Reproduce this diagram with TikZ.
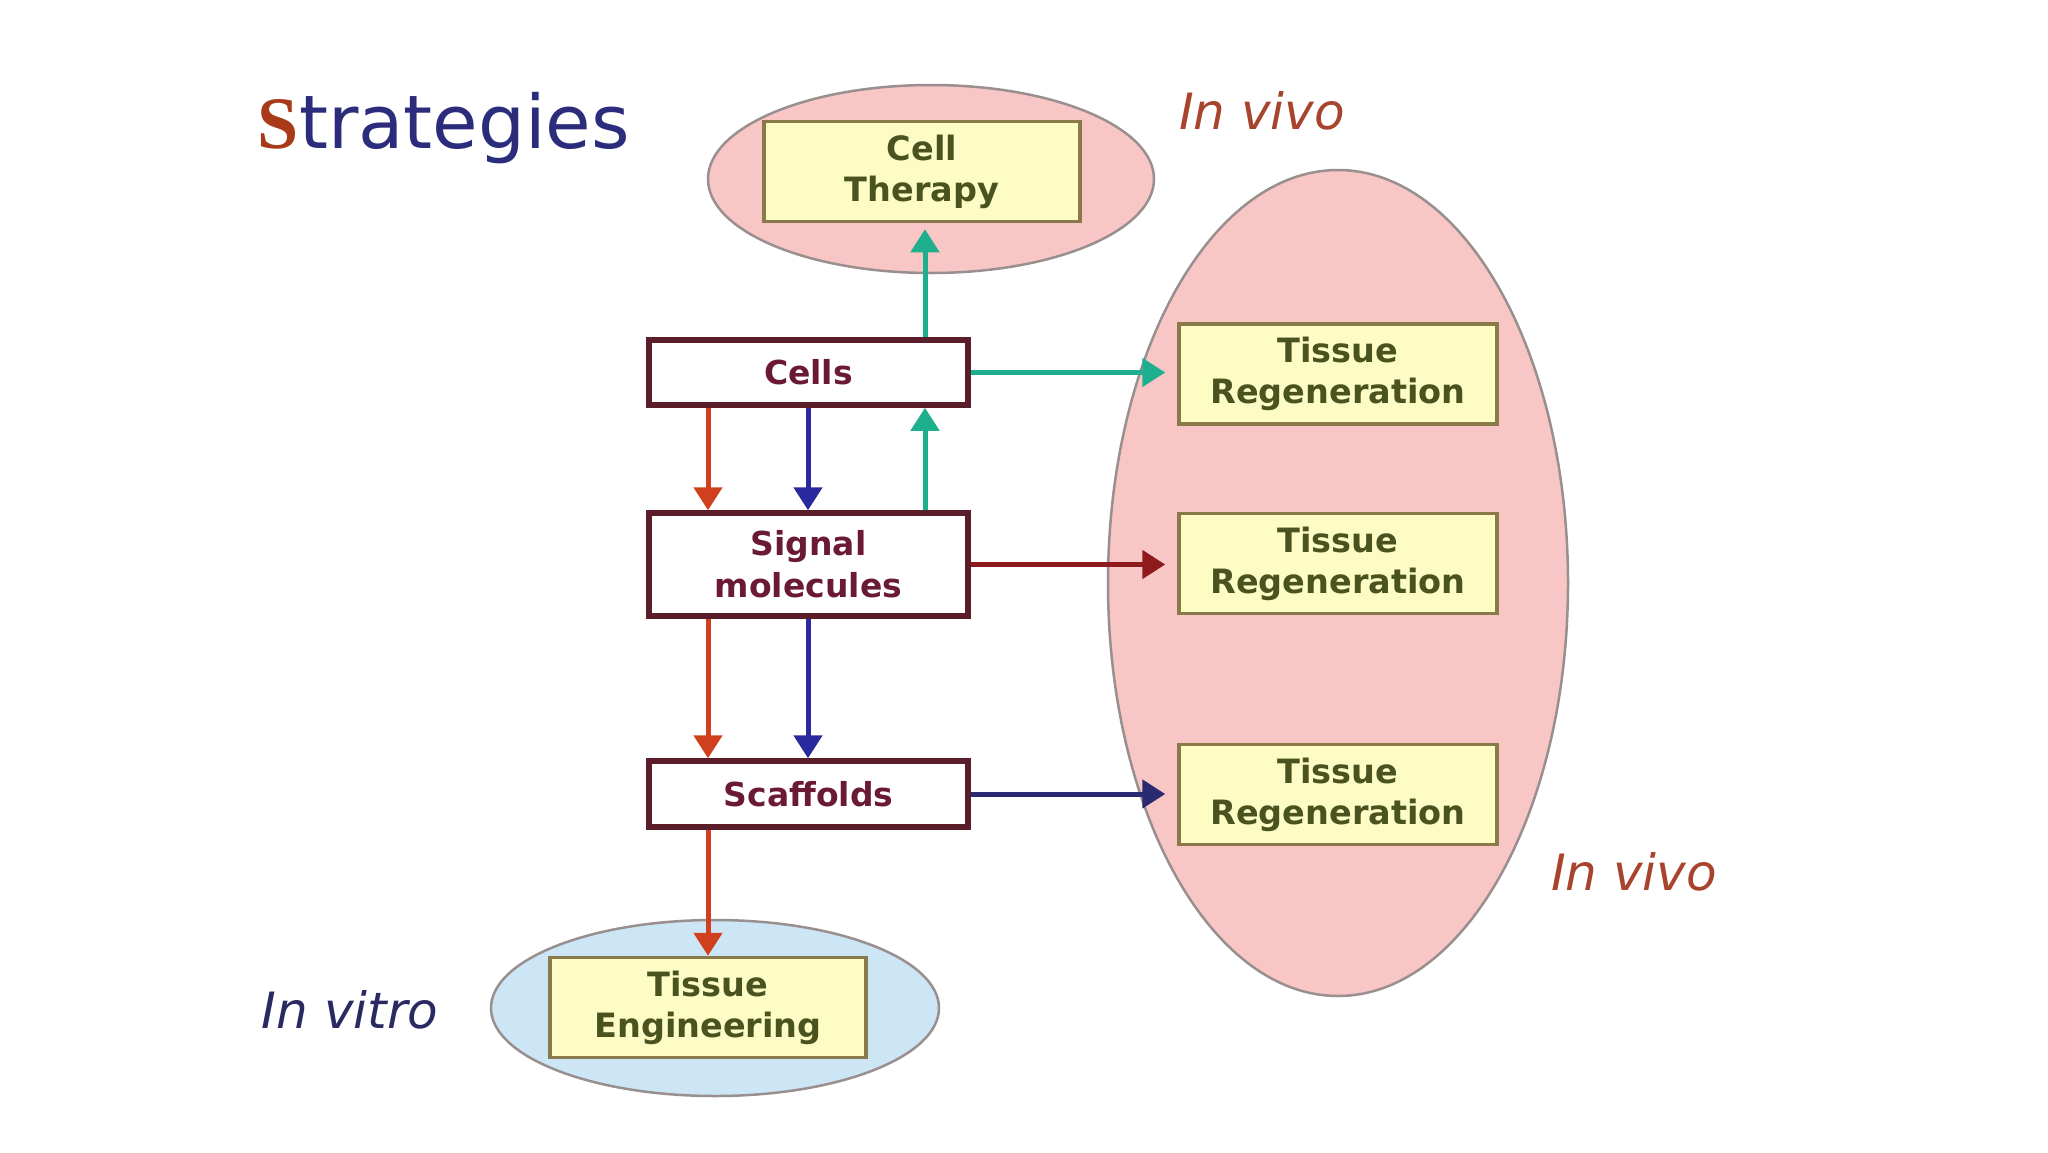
\documentclass[tikz,border=0pt]{standalone}
\usepackage{fontspec}
\setmainfont{DejaVu Sans}
\newfontfamily\serifS{Liberation Serif}
\usetikzlibrary{arrows.meta,shapes.geometric}
\definecolor{pinkfill}{HTML}{F9C6C6}
\definecolor{bluefill}{HTML}{CCE6F6}
\definecolor{ellline}{HTML}{9A8F8F}
\definecolor{yelfill}{HTML}{FCFCC4}
\definecolor{yelline}{HTML}{8A7A4A}
\definecolor{yeltext}{HTML}{4A5220}
\definecolor{mainline}{HTML}{5A1E2A}
\definecolor{maintext}{HTML}{6A1A34}
\definecolor{ared}{HTML}{D0401E}
\definecolor{ablue}{HTML}{2A2A9E}
\definecolor{agreen}{HTML}{1EB08E}
\definecolor{adkred}{HTML}{8E1A1E}
\definecolor{anavy}{HTML}{2A2A72}
\definecolor{vivotext}{HTML}{A8442E}
\definecolor{vitrotext}{HTML}{2A2A62}
\definecolor{titlenavy}{HTML}{2C2C7C}
\definecolor{titleS}{HTML}{A83A1A}
\tikzset{
  mainbox/.style={draw=mainline, line width=5.5pt, fill=white, text=maintext,
    font=\fontsize{33}{42}\selectfont\bfseries, align=center, inner sep=0pt,
    minimum width=319pt},
  yelbox/.style={draw=yelline, line width=3.5pt, fill=yelfill, text=yeltext,
    font=\fontsize{33.5}{41}\selectfont\bfseries, align=center, inner sep=0pt,
    minimum width=316pt, minimum height=100pt},
  regionell/.style={ellipse, draw=ellline, line width=2.5pt, inner sep=0pt},
  arr/.style={line width=5pt, -{Triangle[length=23pt,width=28pt]}},
  lab/.style={font=\fontsize{50}{60}\selectfont\itshape}
}
\begin{document}
\begin{tikzpicture}[x=1pt,y=-1pt]
\useasboundingbox (0,0) rectangle (2048,1152);
\fill[white] (0,0) rectangle (2048,1152);
% regions
\node[regionell, fill=pinkfill, minimum width=446pt, minimum height=188pt] (ctell) at (931,179) {};
\node[regionell, fill=pinkfill, minimum width=460pt, minimum height=826pt] (bigell) at (1338,583) {};
\node[regionell, fill=bluefill, minimum width=448pt, minimum height=176pt] (vitell) at (715,1008) {};
% title and labels
\node[anchor=center, inner sep=0pt] (title) at (444,128)
  {\fontsize{74}{80}\selectfont{\serifS\bfseries\color{titleS}S}\color{titlenavy}trategies};
\node[lab, text=vivotext, inner sep=0pt] (vivo1) at (1262,111) {In vivo};
\node[lab, text=vivotext, inner sep=0pt] (vivo2) at (1634,872) {In vivo};
\node[lab, text=vitrotext, inner sep=0pt] (vitro) at (350,1010) {In vitro};
% main boxes
\node[mainbox, minimum height=65pt] (cells) at (808.5,372.5) {Cells};
\node[mainbox, minimum height=103pt] (signal) at (808.5,564.5) {Signal\\molecules};
\node[mainbox, minimum height=66pt] (scaff) at (808.5,794) {Scaffolds};
% outcome boxes
\node[yelbox] (ct) at (922,171.5) {Cell\\Therapy};
\node[yelbox, minimum width=318pt] (tr1) at (1338,374) {Tissue\\Regeneration};
\node[yelbox, minimum width=318pt] (tr2) at (1338,563.5) {Tissue\\Regeneration};
\node[yelbox, minimum width=318pt] (tr3) at (1338,794.5) {Tissue\\Regeneration};
\node[yelbox] (te) at (708,1007.5) {Tissue\\Engineering};
% column positions
\coordinate (xr) at (708,0);
\coordinate (xb) at (808,0);
\coordinate (xg) at (925,0);
% vertical arrows
\draw[arr, agreen, shorten >=6pt] (cells.north -| xg) -- (ct.south -| xg);
\draw[arr, agreen] (signal.north -| xg) -- (cells.south -| xg);
\draw[arr, ared] (cells.south -| xr) -- (signal.north -| xr);
\draw[arr, ablue] (cells.south -| xb) -- (signal.north -| xb);
\draw[arr, ared] (signal.south -| xr) -- (scaff.north -| xr);
\draw[arr, ablue] (signal.south -| xb) -- (scaff.north -| xb);
\draw[arr, ared] (scaff.south -| xr) -- (te.north -| xr);
% horizontal arrows
\draw[arr, agreen, shorten >=12pt] (cells.east) -- (tr1.west |- cells.east);
\draw[arr, adkred, shorten >=12pt] (signal.east) -- (tr2.west |- signal.east);
\draw[arr, anavy, shorten >=12pt] (scaff.east) -- (tr3.west |- scaff.east);
\end{tikzpicture}
\end{document}
